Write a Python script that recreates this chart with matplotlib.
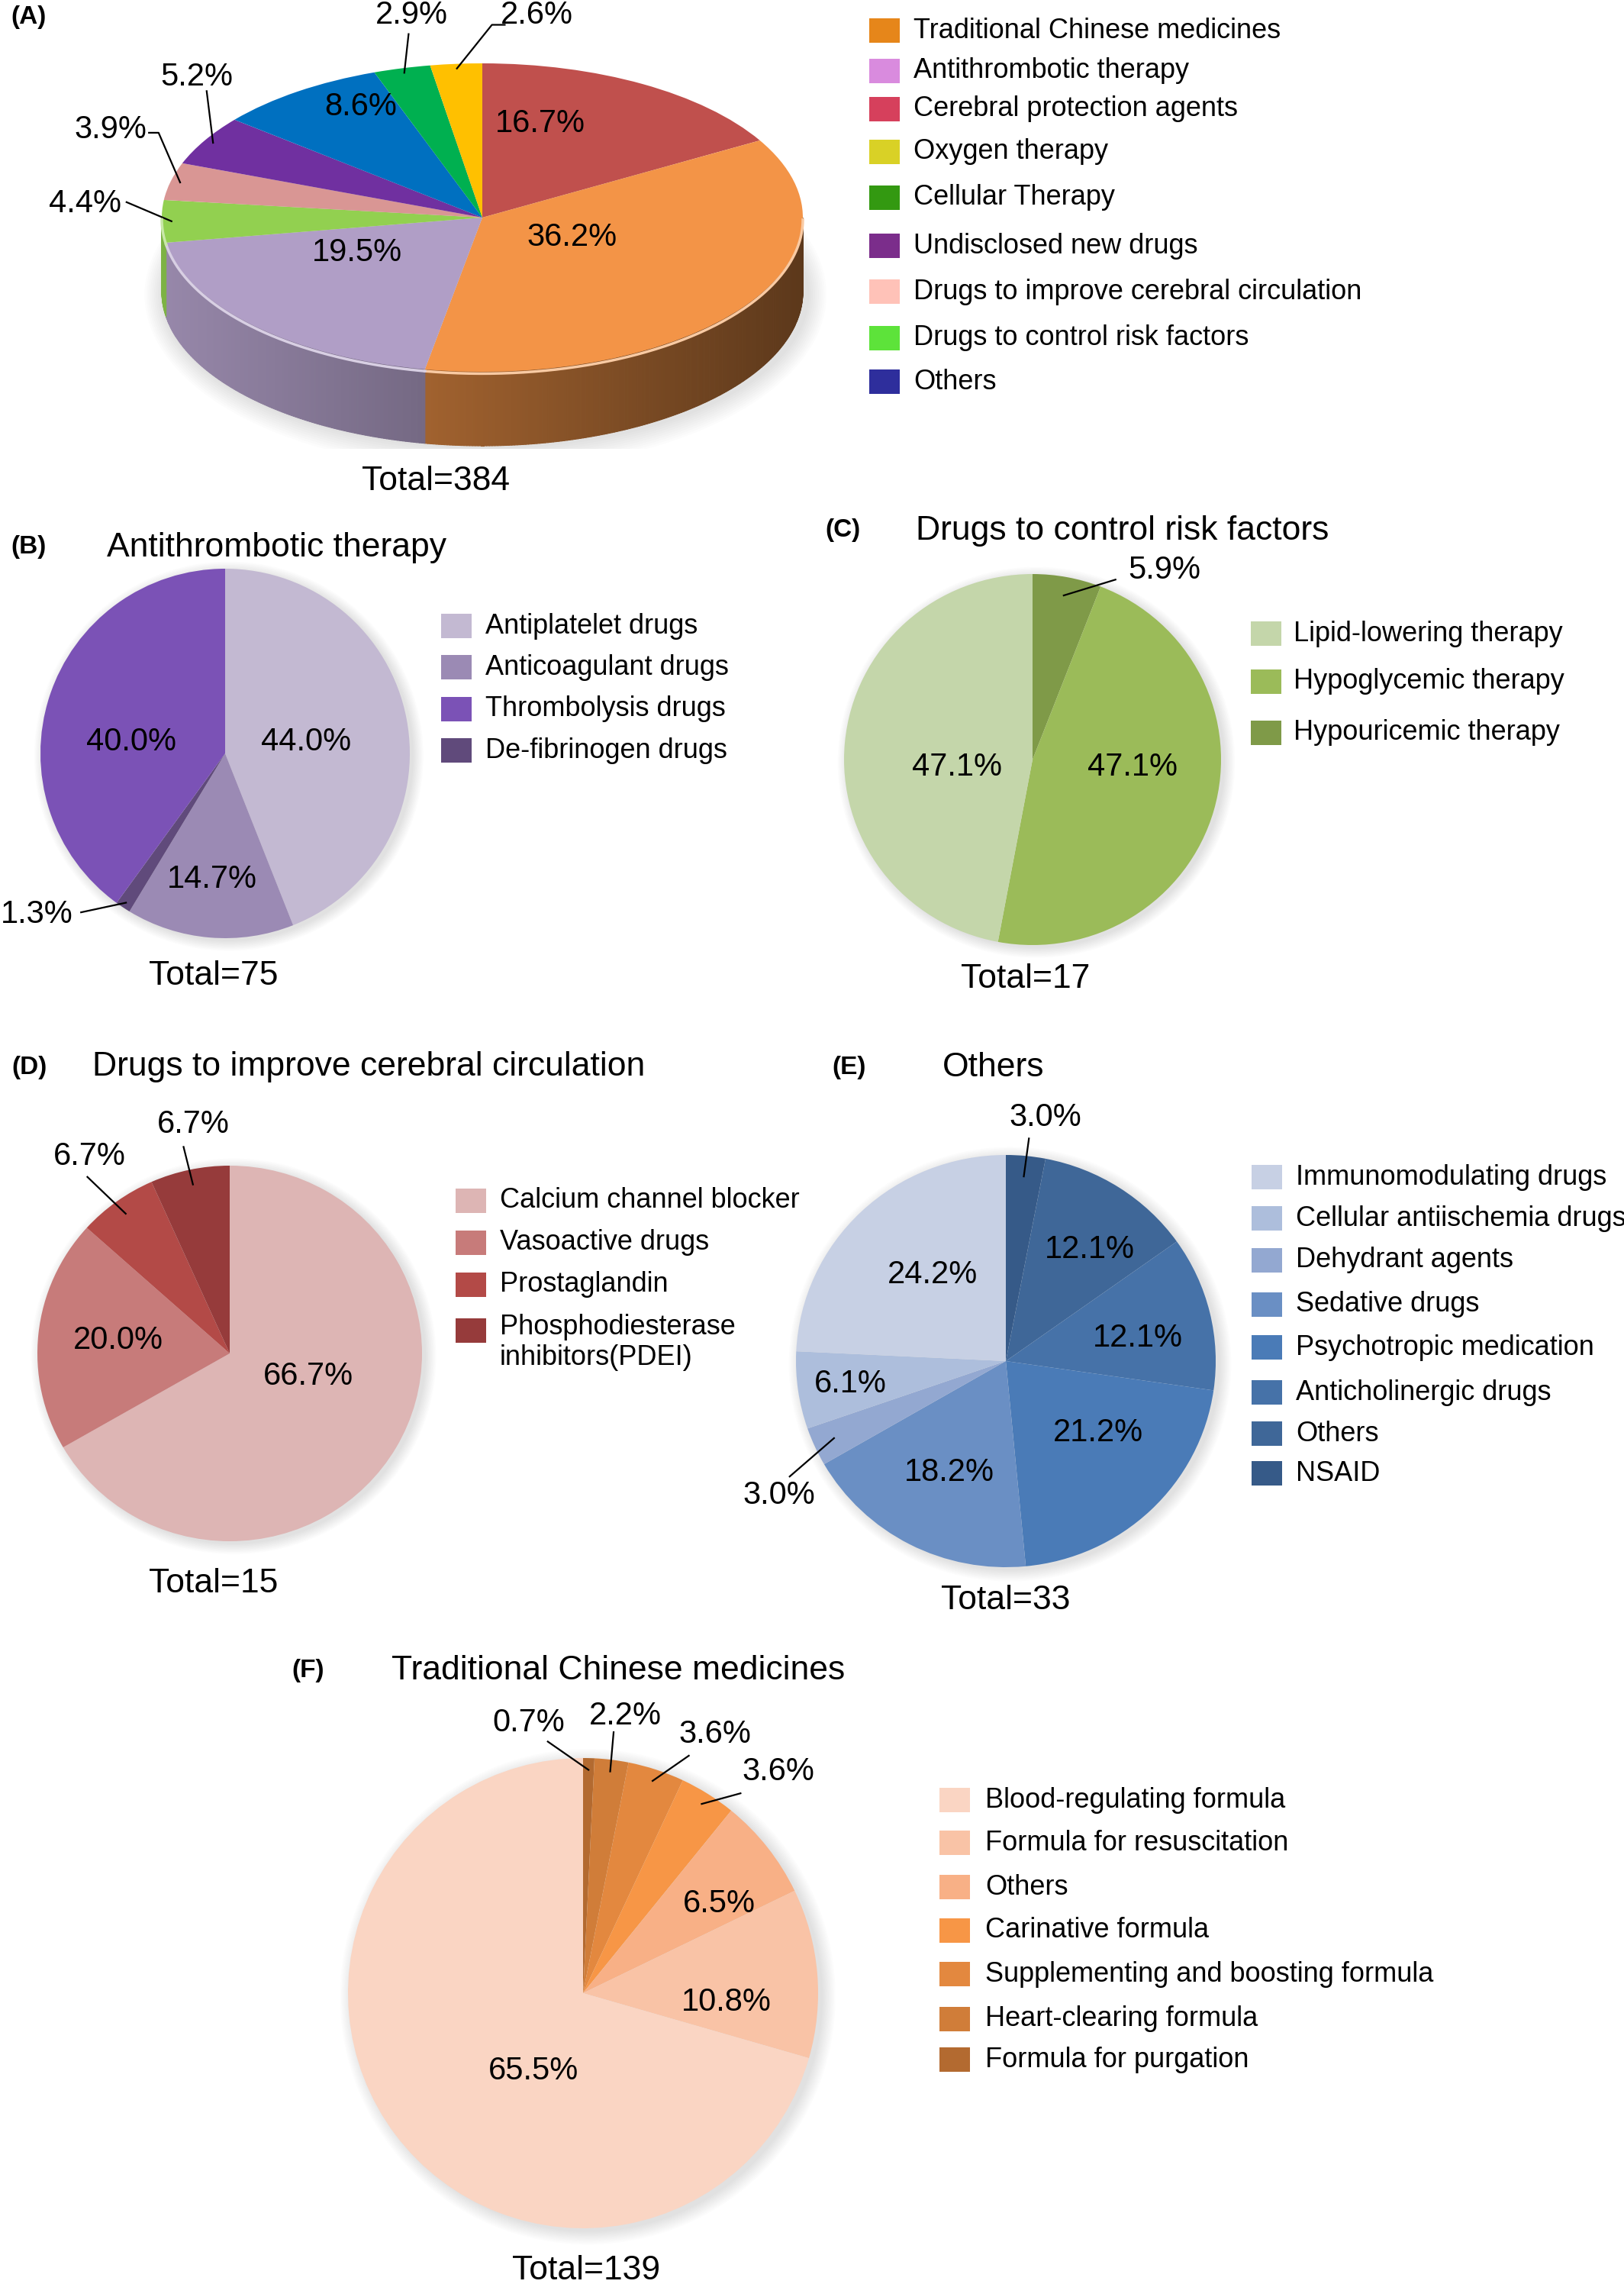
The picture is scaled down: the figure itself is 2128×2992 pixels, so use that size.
import numpy as np
import matplotlib
matplotlib.use('Agg')
import matplotlib.pyplot as plt
from matplotlib.patches import Rectangle, Ellipse
from matplotlib.collections import PolyCollection
from matplotlib.colors import to_rgb

plt.rcParams['font.family'] = ['Liberation Sans', 'DejaVu Sans']

# ---------------- data ----------------
# (A) all interventions; legend as printed in the figure
a_legend = ['Traditional Chinese medicines', 'Antithrombotic therapy', 'Cerebral protection agents',
            'Oxygen therapy', 'Cellular Therapy', 'Undisclosed new drugs',
            'Drugs to improve cerebral circulation', 'Drugs to control risk factors', 'Others']
a_legend_colors = ['#e6861a', '#d98bde', '#d6405c', '#d9d126', '#339911',
                   '#7b2d8b', '#ffc2b8', '#5de33a', '#2e2e9c']
# slices, clockwise from 12 o'clock
a_names = ['Cerebral protection agents', 'Traditional Chinese medicines', 'Antithrombotic therapy',
           'Drugs to control risk factors', 'Drugs to improve cerebral circulation',
           'Undisclosed new drugs', 'Others', 'Cellular Therapy', 'Oxygen therapy']
a_counts = [64, 139, 75, 17, 15, 20, 33, 11, 10]
a_colors = ['#c0504d', '#f39447', '#b09ec6', '#92d050', '#d99694',
            '#7030a0', '#0070c0', '#00b050', '#ffc000']

# (B) antithrombotic therapy
b_names = ['Antiplatelet drugs', 'Anticoagulant drugs', 'Thrombolysis drugs', 'De-fibrinogen drugs']
b_counts = [33, 11, 30, 1]
b_colors = ['#c3b9d2', '#9b8ab4', '#7b52b6', '#604a7b']
b_order = [0, 1, 3, 2]

# (C) risk factors
c_names = ['Lipid-lowering therapy', 'Hypoglycemic therapy', 'Hypouricemic therapy']
c_counts = [8, 8, 1]
c_colors = ['#c4d6aa', '#9bbb59', '#7f9a48']
c_order = [2, 1, 0]

# (D) cerebral circulation
d_names = ['Calcium channel blocker', 'Vasoactive drugs', 'Prostaglandin',
           'Phosphodiesterase\ninhibitors(PDEI)']
d_counts = [10, 3, 1, 1]
d_colors = ['#ddb5b4', '#c77b7a', '#b34a47', '#963b3b']
d_order = [0, 1, 2, 3]

# (E) others
e_names = ['Immunomodulating drugs', 'Cellular antiischemia drugs', 'Dehydrant agents',
           'Sedative drugs', 'Psychotropic medication', 'Anticholinergic drugs', 'Others', 'NSAID']
e_counts = [8, 2, 1, 6, 7, 4, 4, 1]
e_colors = ['#c7d0e4', '#adbedc', '#93a8d1', '#6a8fc4', '#4a7bb7', '#4672a8', '#3f6798', '#365a88']
e_order = [7, 6, 5, 4, 3, 2, 1, 0]

# (F) traditional Chinese medicines
f_names = ['Blood-regulating formula', 'Formula for resuscitation', 'Others', 'Carinative formula',
           'Supplementing and boosting formula', 'Heart-clearing formula', 'Formula for purgation']
f_counts = [91, 15, 9, 5, 5, 3, 1]
f_total = 139
f_colors = ['#fad5c3', '#f9c3a6', '#f8b086', '#f79646', '#e3883f', '#d07d39', '#b36a30']
f_order = [6, 5, 4, 3, 2, 1, 0]

# ---------------- figure ----------------
W, H = 2128, 2992
fig = plt.figure(figsize=(W / 100, H / 100), dpi=100)
EXT = 1.5
LBL = 30


def px(x, y):
    return x / W, 1 - y / H


def pie_axes(cx, cy, rx, ry):
    return fig.add_axes([(cx - rx * EXT) / W, 1 - (cy + ry * EXT) / H,
                         2 * rx * EXT / W, 2 * ry * EXT / H])


def finish(ax):
    ax.set_xlim(-EXT, EXT)
    ax.set_ylim(-EXT, EXT)
    ax.set_aspect('auto')
    ax.axis('off')
    ax.patch.set_alpha(0)


def soft_shadow(ax, ox=0.02, oy=-0.015, h=2.0, n=10):
    # stack of faint ellipses to fake a blurred drop shadow
    for k in range(n):
        ax.add_patch(Ellipse((ox, oy), 2 + k * 0.012, h + k * 0.012, facecolor='black',
                             edgecolor='none', alpha=0.012, zorder=-2))


def draw_pie(ax, counts, colors, order):
    vals = [counts[i] for i in order]
    cols = [colors[i] for i in order]
    wedges, _ = ax.pie(vals, colors=cols, startangle=90, counterclock=False,
                       wedgeprops=dict(linewidth=0))
    return wedges


def mid_point(w, r):
    a = np.deg2rad((w.theta1 + w.theta2) / 2)
    return r * np.cos(a), r * np.sin(a)


def put_labels(ax, wedges, pcts, pos, leaders, rs):
    for i, (w, p, (x, y)) in enumerate(zip(wedges, pcts, pos)):
        ax.text(x, y, p, ha='center', va='center', fontsize=LBL)
        if i in leaders:
            pts = list(leaders[i]) + [mid_point(w, rs)]
            xs, ys = zip(*pts)
            ax.plot(xs, ys, color='black', lw=1.6)


def legend(x_sq, x_txt, rows, names, colors):
    for y, n, c in zip(rows, names, colors):
        fig.patches.append(Rectangle(px(x_sq, y + 16), 40 / W, 32 / H,
                                     transform=fig.transFigure, facecolor=c, edgecolor='none'))
        if '\n' in n:
            fig.text(*px(x_txt, y - 22), n, ha='left', va='top', fontsize=26, linespacing=1.2)
        else:
            fig.text(*px(x_txt, y), n, ha='left', va='center', fontsize=26)


def heading(letter, lx, title, tx, y):
    fig.text(*px(lx, y), letter, fontsize=24, fontweight='bold', va='center', ha='left')
    if title:
        fig.text(*px(tx, y), title, fontsize=32, va='center', ha='left')


def total(x, y, n):
    fig.text(*px(x, y), 'Total=%d' % n, ha='center', va='center', fontsize=32)


def pct_text(counts, order, tot):
    return ['%.1f%%' % (100 * counts[i] / tot) for i in order]


# ---- (A) 3D pie ----
ax = pie_axes(632, 285, 420, 202)
wa = draw_pie(ax, a_counts, a_colors, list(range(len(a_counts))))
depth = 97 / 202
for k in range(10):
    ax.add_patch(Ellipse((0.01, -depth - 0.02), 2.02 + k * 0.012, 2.0 + k * 0.03, facecolor='black',
                         edgecolor='none', alpha=0.012, zorder=-2))
polys, fcs = [], []
for w, c in zip(wa, a_colors):
    base = np.array(to_rgb(c))
    angs = np.linspace(w.theta1, w.theta2, max(int((w.theta2 - w.theta1) * 2), 2))
    for a1, a2 in zip(angs[:-1], angs[1:]):
        am = np.deg2rad((a1 + a2) / 2)
        if np.sin(am) >= 0:
            continue
        r1, r2 = np.deg2rad(a1), np.deg2rad(a2)
        polys.append([(np.cos(r1), np.sin(r1)), (np.cos(r2), np.sin(r2)),
                      (np.cos(r2), np.sin(r2) - depth), (np.cos(r1), np.sin(r1) - depth)])
        f = 0.62 - 0.24 * np.cos(am)
        fcs.append(np.clip(base * f, 0, 1))
    # light rim on the front edge of the top face
    t = np.deg2rad(np.linspace(w.theta1, w.theta2, 200))
    t = t[np.sin(t) < 0]
    if len(t):
        ax.plot(np.cos(t), np.sin(t) - 0.012, color=np.clip(base * 0.5 + 0.5, 0, 1), lw=2.5, zorder=3)
ax.add_collection(PolyCollection(polys, facecolors=fcs, edgecolors=fcs, linewidths=0.8, zorder=0))
finish(ax)
a_pos = [(0.18, 0.61), (0.28, -0.13), (-0.39, -0.23), (-1.24, 0.09), (-1.16, 0.57),
         (-0.89, 0.91), (-0.38, 0.72), (-0.22, 1.31), (0.17, 1.31)]
a_lead = {3: [(-1.11, 0.10)], 4: [(-1.04, 0.55), (-1.01, 0.55)], 5: [(-0.86, 0.82)],
          7: [(-0.23, 1.19)], 8: [(0.07, 1.25), (0.03, 1.25)]}
put_labels(ax, wa, pct_text(a_counts, range(len(a_counts)), sum(a_counts)), a_pos, a_lead, 0.97)
heading('(A)', 14, None, 0, 23)
total(571, 630, sum(a_counts))
legend(1139, 1197, [40, 93, 143, 199, 259, 322, 382, 443, 500], a_legend, a_legend_colors)

# ---- (B) ----
ax = pie_axes(295, 987, 242, 242)
soft_shadow(ax)
wb = draw_pie(ax, b_counts, b_colors, b_order)
finish(ax)
put_labels(ax, wb, pct_text(b_counts, b_order, sum(b_counts)),
           [(0.44, 0.06), (-0.07, -0.68), (-1.02, -0.87), (-0.51, 0.06)],
           {2: [(-0.78, -0.86)]}, 0.97)
heading('(B)', 14, 'Antithrombotic therapy', 140, 717)
total(280, 1279, sum(b_counts))
legend(578, 636, [820, 874, 929, 983], b_names, b_colors)

# ---- (C) ----
ax = pie_axes(1353, 995, 247, 243)
soft_shadow(ax)
wc = draw_pie(ax, c_counts, c_colors, c_order)
finish(ax)
put_labels(ax, wc, pct_text(c_counts, c_order, sum(c_counts)),
           [(0.70, 1.02), (0.53, -0.04), (-0.40, -0.04)],
           {0: [(0.44, 0.97)]}, 0.9)
heading('(C)', 1081, 'Drugs to control risk factors', 1200, 695)
total(1344, 1283, sum(c_counts))
legend(1639, 1695, [830, 893, 960], c_names, c_colors)

# ---- (D) ----
ax = pie_axes(301, 1773, 252, 246)
soft_shadow(ax)
wd = draw_pie(ax, d_counts, d_colors, d_order)
finish(ax)
put_labels(ax, wd, pct_text(d_counts, d_order, sum(d_counts)),
           [(0.41, -0.12), (-0.58, 0.07), (-0.73, 1.05), (-0.19, 1.22)],
           {2: [(-0.74, 0.94)], 3: [(-0.24, 1.10)]}, 0.92)
heading('(D)', 15, 'Drugs to improve cerebral circulation', 121, 1398)
total(280, 2075, sum(d_counts))
legend(597, 655, [1573, 1628, 1683, 1743], d_names, d_colors)

# ---- (E) ----
ax = pie_axes(1318, 1783, 275, 270)
soft_shadow(ax)
we = draw_pie(ax, e_counts, e_colors, e_order)
finish(ax)
put_labels(ax, we, pct_text(e_counts, e_order, sum(e_counts)),
           [(0.19, 1.18), (0.40, 0.54), (0.63, 0.11), (0.44, -0.35), (-0.27, -0.54),
            (-1.08, -0.65), (-0.74, -0.11), (-0.35, 0.42)],
           {0: [(0.11, 1.08)], 5: [(-1.03, -0.56)]}, 0.9)
heading('(E)', 1090, 'Others', 1235, 1398)
total(1318, 2097, sum(e_counts))
legend(1640, 1698, [1542, 1596, 1651, 1709, 1765, 1824, 1878, 1930], e_names, e_colors)

# ---- (F) ----
ax = pie_axes(764, 2611, 308, 308)
soft_shadow(ax)
wf = draw_pie(ax, f_counts, f_colors, f_order)
finish(ax)
put_labels(ax, wf, pct_text(f_counts, f_order, f_total),
           [(-0.23, 1.15), (0.18, 1.18), (0.56, 1.10), (0.83, 0.94), (0.58, 0.38),
            (0.61, -0.04), (-0.21, -0.33)],
           {0: [(-0.15, 1.07)], 1: [(0.13, 1.11)], 2: [(0.45, 1.01)], 3: [(0.67, 0.85)]}, 0.95)
heading('(F)', 382, 'Traditional Chinese medicines', 513, 2188)
total(768, 2975, f_total)
legend(1231, 1291, [2358, 2414, 2472, 2529, 2586, 2645, 2698], f_names, f_colors)

fig.savefig('out.png', dpi=100, facecolor='white')
